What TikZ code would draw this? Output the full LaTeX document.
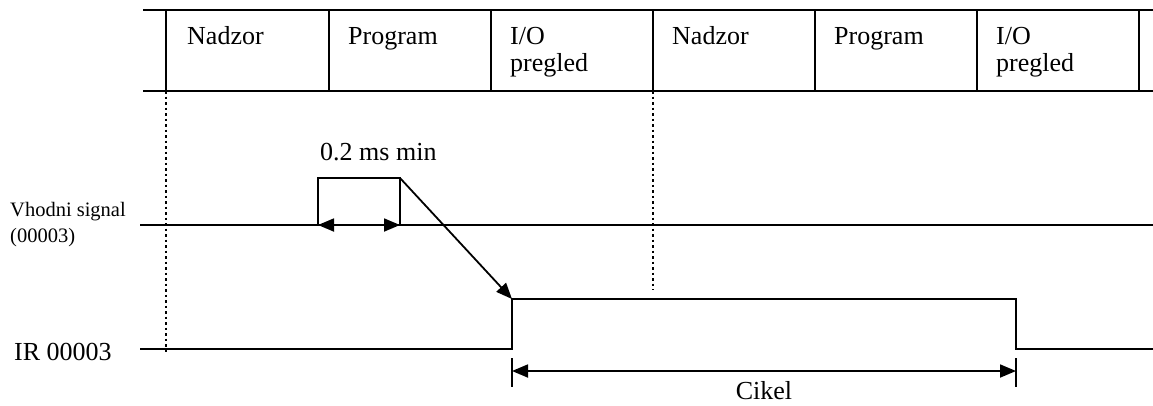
\documentclass[tikz,border=0pt]{standalone}
\usepackage{fontspec}
\setmainfont{Liberation Serif}
\usetikzlibrary{arrows.meta}
\begin{document}
\begin{tikzpicture}[x=1pt,y=-1pt,
  lbl/.style={anchor=base west,inner sep=0pt,font=\fontsize{26}{27}\selectfont},
  smalllbl/.style={anchor=base west,inner sep=0pt,font=\fontsize{20.5}{25}\selectfont},
  wire/.style={line width=1.8pt},
  dotline/.style={line width=1.8pt,dash pattern=on 2.5pt off 3pt},
  onetip/.style={-{Triangle[length=16pt,width=13pt]}},
  twotips/.style={{Triangle[length=16pt,width=13pt]}-{Triangle[length=16pt,width=13pt]}},
  tick/.style={line width=1.4pt}]
\useasboundingbox (0,0) rectangle (1153,405);
% table of cycle phases
\coordinate (tl) at (143,10); \coordinate (tr) at (1153,10);
\coordinate (bl) at (143,91); \coordinate (br) at (1153,91);
\draw[wire] (tl) -- (tr);
\draw[wire] (bl) -- (br);
\foreach \x in {166,329,491,653,815,977,1139} \draw[wire] (\x,10) -- (\x,91);
\node[lbl] (n1) at (187,44) {Nadzor};
\node[lbl] (p1) at (348,44) {Program};
\node[lbl] (io1) at (510,44) {I/O};
\node[lbl] (pr1) at (510,71) {pregled};
\node[lbl] (n2) at (672,44) {Nadzor};
\node[lbl] (p2) at (834,44) {Program};
\node[lbl] (io2) at (996,44) {I/O};
\node[lbl] (pr2) at (996,71) {pregled};
% dotted markers
\coordinate (d1a) at (166,91); \coordinate (d1b) at (166,352);
\coordinate (d2a) at (653,91); \coordinate (d2b) at (653,290);
\draw[dotline] (d1a) -- (d1b);
\draw[dotline] (d2a) -- (d2b);
% input signal
\node[smalllbl] (vs1) at (10,216) {Vhodni signal};
\node[smalllbl] (vs2) at (10,242) {(00003)};
\coordinate (in0) at (140,225); \coordinate (in1) at (1153,225);
\coordinate (pl) at (318,225); \coordinate (plt) at (318,178);
\coordinate (pr) at (400,225); \coordinate (prt) at (400,178);
\draw[wire] (in0) -- (in1);
\draw[wire] (pl) -- (plt) -- (prt) -- (pr);
\draw[wire,twotips] (pl) -- (pr);
\node[lbl] (t02) at (320,160) {0.2 ms min};
% IR signal
\node[lbl] (ir) at (14,360) {IR 00003};
\coordinate (r0) at (140,349); \coordinate (r1) at (512,349);
\coordinate (r2) at (512,299); \coordinate (r3) at (1016,299);
\coordinate (r4) at (1016,349); \coordinate (r5) at (1153,349);
\draw[wire] (r0) -- (r1) -- (r2) -- (r3) -- (r4) -- (r5);
\draw[wire,onetip] (prt) -- (r2);
% cycle dimension
\coordinate (k1a) at (512,358); \coordinate (k1b) at (512,387);
\coordinate (k2a) at (1016,358); \coordinate (k2b) at (1016,387);
\draw[tick] (k1a) -- (k1b);
\draw[tick] (k2a) -- (k2b);
\coordinate (c1) at (512,371); \coordinate (c2) at (1016,371);
\draw[wire,twotips] (c1) -- (c2);
\node[lbl,anchor=base] (cik) at (764,399) {Cikel};
\end{tikzpicture}
\end{document}
